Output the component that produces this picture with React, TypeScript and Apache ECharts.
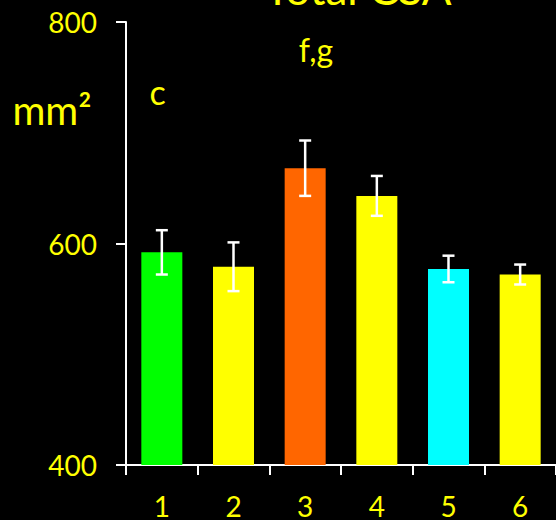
import React, { useEffect, useRef } from "react";
import * as echarts from "echarts";

const categories = ["1", "2", "3", "4", "5", "6"];
const means = [592, 579, 668, 643, 577, 572];
const errors = [20, 22, 25, 18, 12, 9];
const barColors = ["#00ff00", "#ffff00", "#ff6600", "#ffff00", "#00ffff", "#ffff00"];
const yMin = 400;
const yMax = 800;
const yInterval = 200;
const titleText = "Total CSA";
const unitText = "mm²";
const annotations = [
  { text: "c", x: 157.5, y: 91.5, size: 34 },
  { text: "f,g", x: 316, y: 49.5, size: 32 },
];

const YELLOW = "#ffff00";
const FONT = "Lato";

export default function App() {
  const ref = useRef<HTMLDivElement>(null);
  useEffect(() => {
    document.body.style.margin = "0";
    document.body.style.background = "#000";
    const chart = echarts.init(ref.current!, null, { renderer: "svg" });
    const graphics: any[] = [
      {
        type: "text",
        x: 358,
        y: -12,
        style: {
          text: titleText,
          fill: YELLOW,
          fontSize: 44,
          fontFamily: FONT,
          textAlign: "center",
          textVerticalAlign: "middle",
          align: "center",
          verticalAlign: "middle",
        },
      },
      {
        type: "text",
        x: 52,
        y: 109.5,
        style: {
          text: unitText,
          fill: YELLOW,
          fontSize: 40,
          fontFamily: FONT,
          textAlign: "center",
          textVerticalAlign: "middle",
          align: "center",
          verticalAlign: "middle",
        },
      },
      ...annotations.map((a) => ({
        type: "text",
        x: a.x,
        y: a.y,
        style: {
          text: a.text,
          fill: YELLOW,
          fontSize: a.size,
          fontFamily: FONT,
          textAlign: "center",
          textVerticalAlign: "middle",
          align: "center",
          verticalAlign: "middle",
        },
      })),
    ];
    chart.setOption({
      animation: false,
      backgroundColor: "#000",
      grid: { left: 126, top: 22, width: 434, height: 446 },
      xAxis: {
        type: "category",
        data: categories,
        axisLine: { lineStyle: { color: "#fff", width: 2 } },
        axisTick: { show: true, length: 10, alignWithLabel: false, lineStyle: { color: "#fff", width: 2 } },
        axisLabel: { color: YELLOW, fontSize: 28, fontFamily: FONT, margin: 27 },
        splitLine: { show: false },
      },
      yAxis: {
        type: "value",
        min: yMin,
        max: yMax,
        interval: yInterval,
        axisLine: { show: true, lineStyle: { color: "#fff", width: 2 } },
        axisTick: { show: true, length: 10, lineStyle: { color: "#fff", width: 2 } },
        axisLabel: { color: YELLOW, fontSize: 28, fontFamily: FONT, margin: 29 },
        splitLine: { show: false },
      },
      graphic: graphics,
      series: [
        {
          type: "bar",
          data: means.map((v, i) => ({ value: v, itemStyle: { color: barColors[i] } })),
          barWidth: 41,
          z: 2,
        },
        {
          type: "custom",
          z: 5,
          data: means.map((v, i) => [i, v, errors[i]]),
          encode: { x: 0, y: 1 },
          renderItem: (params: any, api: any) => {
            const i = api.value(0);
            const m = api.value(1);
            const e = api.value(2);
            const top = api.coord([i, m + e]);
            const bot = api.coord([i, m - e]);
            const half = 6;
            const st = { stroke: "#fff", lineWidth: 2.5 };
            return {
              type: "group",
              children: [
                { type: "line", shape: { x1: top[0], y1: top[1], x2: bot[0], y2: bot[1] }, style: st },
                { type: "line", shape: { x1: top[0] - half, y1: top[1], x2: top[0] + half, y2: top[1] }, style: st },
                { type: "line", shape: { x1: bot[0] - half, y1: bot[1], x2: bot[0] + half, y2: bot[1] }, style: st },
              ],
            };
          },
        },
      ],
    });
    return () => chart.dispose();
  }, []);
  return <div ref={ref} style={{ width: 556, height: 520, background: "#000" }} />;
}
